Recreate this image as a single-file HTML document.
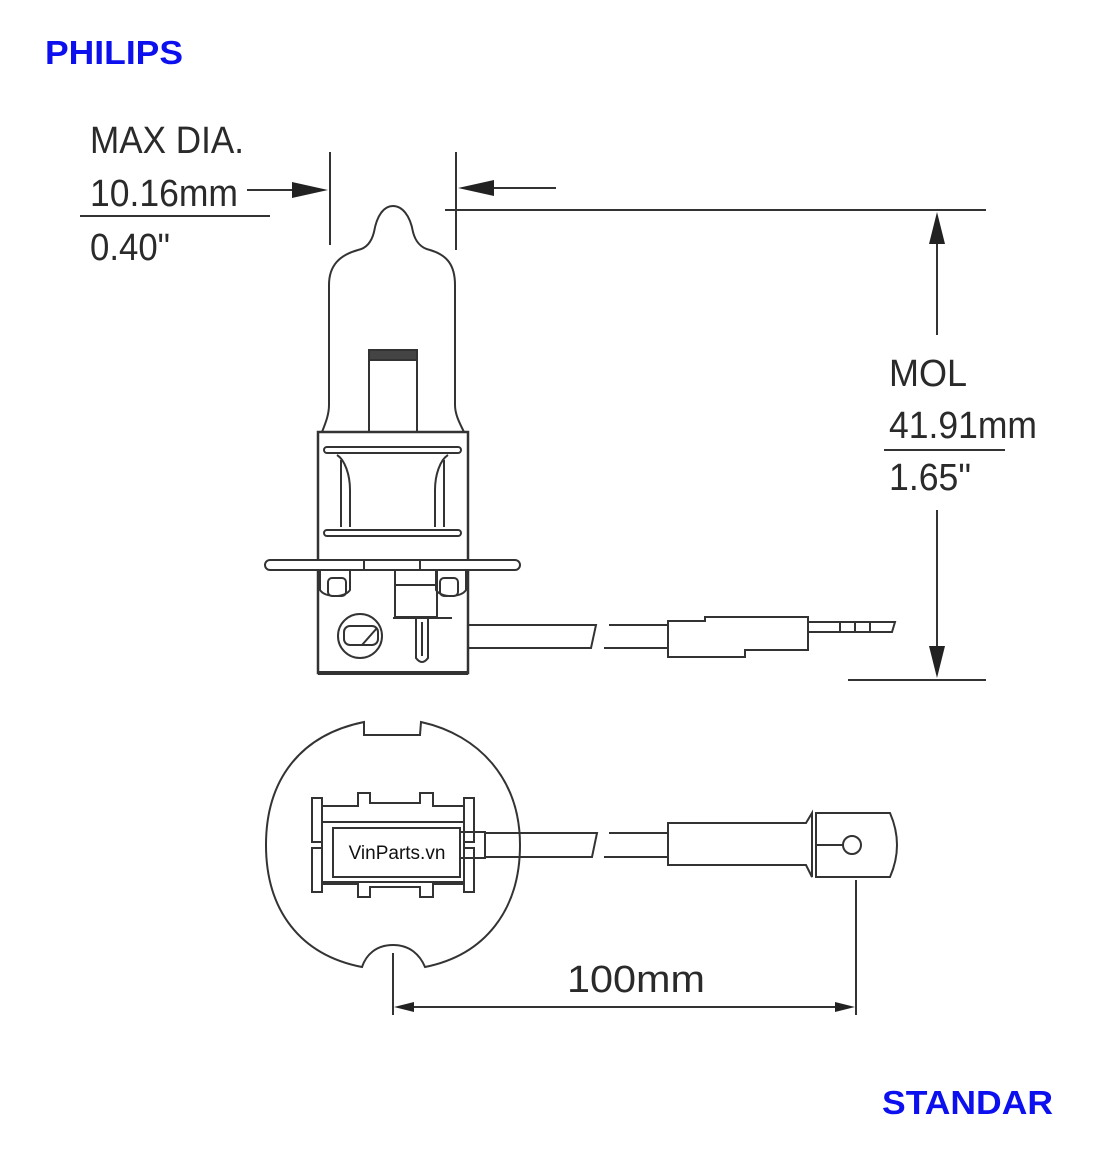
<!DOCTYPE html>
<html><head><meta charset="utf-8"><style>
html,body{margin:0;padding:0;background:#fff}
svg{display:block}
.t{font-family:"Liberation Sans",sans-serif;fill:#2a2a2a;font-size:38px}
.b{font-family:"Liberation Sans",sans-serif;font-weight:bold;fill:#0d10ee;font-size:33px}
</style></head><body>
<svg width="1100" height="1157" viewBox="0 0 1100 1157" xmlns="http://www.w3.org/2000/svg">
<text x="45" y="64" class="b" textLength="138" lengthAdjust="spacingAndGlyphs">PHILIPS</text>
<text x="882" y="1114" class="b" textLength="171" lengthAdjust="spacingAndGlyphs">STANDAR</text>

<g stroke="#333" stroke-width="2" fill="none">
<line x1="330" y1="152" x2="330" y2="245"/>
<line x1="456" y1="152" x2="456" y2="250"/>
<line x1="247" y1="190" x2="300" y2="190"/>
<line x1="80" y1="216" x2="270" y2="216"/>
<line x1="490" y1="188" x2="556" y2="188"/>
<line x1="445" y1="210" x2="986" y2="210"/>
<line x1="848" y1="680" x2="986" y2="680"/>
<line x1="937" y1="240" x2="937" y2="335"/>
<line x1="937" y1="510" x2="937" y2="650"/>
<line x1="884" y1="450" x2="1005" y2="450"/>
<line x1="393" y1="953" x2="393" y2="1015"/>
<line x1="856" y1="880" x2="856" y2="1015"/>
<line x1="410" y1="1007" x2="840" y2="1007"/>
</g>
<g fill="#222">
<polygon points="328,190 292,182 292,198"/>
<polygon points="458,188 494,180 494,196"/>
<polygon points="937,212 929,244 945,244"/>
<polygon points="937,678 929,646 945,646"/>
<polygon points="394,1007 414,1002 414,1012"/>
<polygon points="855,1007 835,1002 835,1012"/>
</g>
<text x="90" y="153" class="t" textLength="154" lengthAdjust="spacingAndGlyphs">MAX DIA.</text>
<text x="90" y="206" class="t" textLength="148" lengthAdjust="spacingAndGlyphs">10.16mm</text>
<text x="90" y="260" class="t" textLength="80" lengthAdjust="spacingAndGlyphs">0.40"</text>
<text x="889" y="386" class="t" textLength="78" lengthAdjust="spacingAndGlyphs">MOL</text>
<text x="889" y="438" class="t" textLength="148" lengthAdjust="spacingAndGlyphs">41.91mm</text>
<text x="889" y="490" class="t" textLength="82" lengthAdjust="spacingAndGlyphs">1.65"</text>
<text x="567" y="992" class="t" textLength="138" lengthAdjust="spacingAndGlyphs">100mm</text>

<g stroke="#333" stroke-width="2" fill="none">
<path d="M322,432 C326,422 329,414 329,405 L329,285 C329,265 340,255 358,250 C368,248 372,240 374,232 C377,215 384,206 393,206 C402,206 410,215 413,232 C415,240 420,248 430,250 C447,255 455,265 455,285 L455,405 C455,414 459,422 464,432"/>
<rect x="369" y="350" width="48" height="82"/>
<rect x="369" y="350" width="48" height="10" fill="#444"/>
<rect x="318" y="432" width="150" height="241" stroke-width="2.5"/>
<line x1="318" y1="673" x2="468" y2="673" stroke-width="4"/>
<rect x="324" y="447" width="137" height="6" rx="3"/>
<rect x="324" y="530" width="137" height="6" rx="3"/>
<path d="M337,455 C345,460 350,475 350,490 L350,527 M341,460 L341,527"/>
<path d="M448,455 C440,460 435,475 435,490 L435,527 M444,460 L444,527"/>
<rect x="265" y="560" width="255" height="10" rx="5" fill="#fff"/>
<line x1="364" y1="561" x2="364" y2="569"/><line x1="420" y1="561" x2="420" y2="569"/>
<path d="M320,570 L320,590 C325,598 345,598 350,590 L350,570"/>
<rect x="328" y="578" width="18" height="18" rx="4"/>
<path d="M436,570 L436,590 C441,598 461,598 466,590 L466,570"/>
<rect x="440" y="578" width="18" height="18" rx="4"/>
<rect x="395" y="570" width="42" height="47"/>
<line x1="395" y1="585" x2="437" y2="585"/>
<line x1="393" y1="618" x2="452" y2="618"/>
<path d="M416,618 L416,658 Q422,666 428,658 L428,618"/>
<line x1="422" y1="622" x2="422" y2="656"/>
<circle cx="360" cy="636" r="22"/>
<rect x="344" y="626" width="34" height="19" rx="6"/>
<line x1="362" y1="645" x2="377" y2="628"/>
<path d="M468,625 L596,625 L591,648 L468,648"/>
<path d="M609,625 L668,625 M668,648 L604,648 Z"/>
<path d="M668,621 L705,621 L705,617 L808,617 L808,650 L745,650 L745,657 L668,657 Z"/>
<path d="M808,622 L895,622 L892,632 L808,632"/>
<line x1="840" y1="622" x2="840" y2="632"/><line x1="855" y1="622" x2="855" y2="632"/><line x1="870" y1="622" x2="870" y2="632"/>

<path d="M364,722 L364,735 L420,735 L421,722 C480,735 520,780 520,845 C520,910 485,955 425,967 C420,955 410,945 393,945 C376,945 366,955 362,967 C300,955 266,910 266,845 C266,780 300,735 364,722 Z"/>
<rect x="312" y="798" width="10" height="44"/>
<rect x="312" y="848" width="10" height="44"/>
<rect x="464" y="798" width="10" height="44"/>
<rect x="464" y="848" width="10" height="44"/>
<path d="M322,806 L358,806 L358,793 L370,793 L370,803 L420,803 L420,793 L433,793 L433,806 L464,806"/>
<path d="M322,884 L358,884 L358,897 L370,897 L370,887 L420,887 L420,897 L433,897 L433,884 L464,884"/>
<rect x="322" y="822" width="142" height="60"/>
<rect x="333" y="828" width="127" height="49" fill="#fff"/>
<rect x="460" y="832" width="25" height="26"/>
<path d="M485,833 L597,833 L592,857 L485,857"/>
<path d="M609,833 L668,833 M668,857 L604,857 Z"/>
<path d="M668,823 L806,823 L812,813 L812,877 L806,865 L668,865 Z"/>
<path d="M816,813 L890,813 Q904,845 890,877 L816,877 Z"/>
<circle cx="852" cy="845" r="9"/>
<line x1="816" y1="845" x2="843" y2="845"/>
</g>
<text x="397" y="859" text-anchor="middle" style="font-family:'Liberation Sans',sans-serif;font-size:19px;fill:#111">VinParts.vn</text>
</svg>
</body></html>
